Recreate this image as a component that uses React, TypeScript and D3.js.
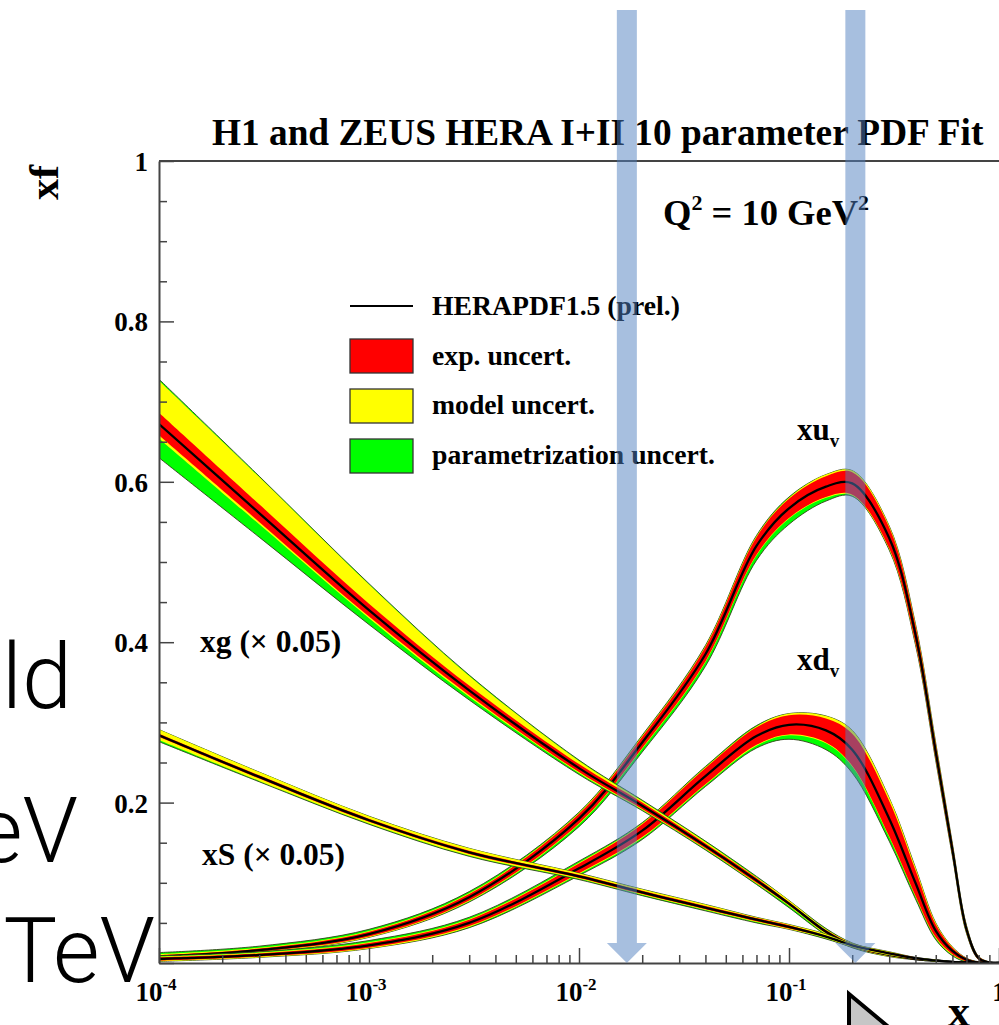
import React, { useRef, useEffect } from "react";
import * as d3 from "d3";

// x grid shared by all PDF curves
const xGrid = [1e-4, 3e-4, 1e-3, 3e-3, 0.01, 0.02, 0.04, 0.07, 0.1, 0.15, 0.2, 0.3, 0.4, 0.5, 0.6, 0.7, 0.8, 0.9, 1];

// xu_v
const xuvCentral = [0.008, 0.016, 0.036, 0.082, 0.18, 0.275, 0.385, 0.52, 0.567, 0.594, 0.598, 0.53, 0.41, 0.263, 0.141, 0.042, 0.006, 0.0005, 0];
const xuvExp = [0.002, 0.002, 0.003, 0.004, 0.006, 0.007, 0.009, 0.011, 0.012, 0.013, 0.014, 0.013, 0.011, 0.009, 0.007, 0.004, 0.002, 0.001, 0];
const xuvModHi = [0.003, 0.003, 0.004, 0.005, 0.007, 0.008, 0.01, 0.012, 0.013, 0.015, 0.016, 0.015, 0.013, 0.011, 0.008, 0.005, 0.002, 0.001, 0];
const xuvModLo = [0.003, 0.003, 0.004, 0.005, 0.007, 0.008, 0.01, 0.012, 0.013, 0.014, 0.015, 0.014, 0.012, 0.01, 0.008, 0.005, 0.002, 0.001, 0];
const xuvTotHi = [0.005, 0.005, 0.006, 0.007, 0.008, 0.009, 0.011, 0.013, 0.014, 0.015, 0.016, 0.015, 0.013, 0.011, 0.008, 0.005, 0.002, 0.001, 0];
const xuvTotLo = [0.003, 0.003, 0.004, 0.006, 0.01, 0.012, 0.015, 0.018, 0.02, 0.018, 0.016, 0.015, 0.013, 0.011, 0.008, 0.005, 0.002, 0.001, 0];

// xd_v
const xdvCentral = [0.005, 0.01, 0.022, 0.05, 0.118, 0.165, 0.233, 0.283, 0.297, 0.29, 0.266, 0.18, 0.1, 0.04, 0.015, 0.004, 0.0005, 0, 0];
const xdvExp = [0.002, 0.002, 0.003, 0.004, 0.006, 0.008, 0.01, 0.011, 0.012, 0.015, 0.02, 0.022, 0.016, 0.008, 0.004, 0.002, 0.001, 0, 0];
const xdvModHi = [0.003, 0.003, 0.004, 0.005, 0.007, 0.009, 0.011, 0.012, 0.014, 0.018, 0.024, 0.026, 0.019, 0.01, 0.005, 0.002, 0.001, 0, 0];
const xdvModLo = [0.003, 0.003, 0.004, 0.005, 0.007, 0.009, 0.011, 0.012, 0.013, 0.016, 0.021, 0.023, 0.017, 0.009, 0.005, 0.002, 0.001, 0, 0];
const xdvTotHi = [0.004, 0.004, 0.006, 0.007, 0.009, 0.01, 0.012, 0.013, 0.014, 0.018, 0.024, 0.026, 0.019, 0.01, 0.005, 0.002, 0.001, 0, 0];
const xdvTotLo = [0.003, 0.003, 0.004, 0.006, 0.009, 0.011, 0.013, 0.015, 0.018, 0.024, 0.029, 0.028, 0.02, 0.011, 0.006, 0.003, 0.001, 0, 0];

// xg (x 0.05)
const xgCentral = [0.672, 0.561, 0.44, 0.34, 0.243, 0.196, 0.146, 0.103, 0.074, 0.039, 0.022, 0.01, 0.005, 0.003, 0.0015, 0.0007, 0.0002, 0, 0];
const xgExp = [0.014, 0.011, 0.008, 0.006, 0.005, 0.004, 0.003, 0.003, 0.002, 0.002, 0.002, 0.001, 0.001, 0.001, 0, 0, 0, 0, 0];
const xgModHi = [0.054, 0.045, 0.032, 0.018, 0.009, 0.006, 0.005, 0.004, 0.004, 0.003, 0.003, 0.002, 0.001, 0.001, 0, 0, 0, 0, 0];
const xgModLo = [0.018, 0.014, 0.01, 0.008, 0.006, 0.005, 0.004, 0.004, 0.003, 0.003, 0.002, 0.002, 0.001, 0.001, 0, 0, 0, 0, 0];
const xgTotHi = [0.056, 0.046, 0.033, 0.019, 0.01, 0.007, 0.006, 0.005, 0.004, 0.004, 0.003, 0.002, 0.001, 0.001, 0, 0, 0, 0, 0];
const xgTotLo = [0.042, 0.03, 0.018, 0.012, 0.008, 0.006, 0.005, 0.005, 0.005, 0.004, 0.003, 0.002, 0.001, 0.001, 0, 0, 0, 0, 0];

// xS (x 0.05)
const xsCentral = [0.284, 0.232, 0.178, 0.138, 0.108, 0.088, 0.069, 0.054, 0.045, 0.033, 0.022, 0.012, 0.006, 0.003, 0.0015, 0.0007, 0.0002, 0, 0];
const xsExp = [0.002, 0.002, 0.002, 0.002, 0.002, 0.002, 0.002, 0.002, 0.002, 0.001, 0.001, 0.001, 0.001, 0, 0, 0, 0, 0, 0];
const xsModHi = [0.007, 0.006, 0.005, 0.005, 0.004, 0.004, 0.004, 0.003, 0.003, 0.003, 0.002, 0.002, 0.001, 0.001, 0, 0, 0, 0, 0];
const xsModLo = [0.006, 0.005, 0.004, 0.004, 0.003, 0.003, 0.003, 0.003, 0.003, 0.002, 0.002, 0.002, 0.001, 0.001, 0, 0, 0, 0, 0];
const xsTotHi = [0.007, 0.006, 0.005, 0.005, 0.004, 0.004, 0.004, 0.003, 0.003, 0.003, 0.002, 0.002, 0.001, 0.001, 0, 0, 0, 0, 0];
const xsTotLo = [0.008, 0.006, 0.005, 0.005, 0.004, 0.004, 0.004, 0.004, 0.003, 0.003, 0.002, 0.002, 0.001, 0.001, 0, 0, 0, 0, 0];

const yTickLabels = ["0.2", "0.4", "0.6", "0.8", "1"];
const xTickExponents = ["-4", "-3", "-2", "-1"];
const legendLabels = ["HERAPDF1.5 (prel.)", "exp. uncert.", "model uncert.", "parametrization uncert."];
const bandColors = ["#ff0000", "#ffff00", "#00ff00"];
// x positions of the two highlight arrows
const arrowXs = [0.0169, 0.207];

const serif = "'Liberation Serif', 'Times New Roman', serif";

const App = () => {
    const chart = useRef<SVGSVGElement>(null);

    useEffect(() => {
        const svg = d3.select(chart.current);
        svg.selectAll("*").remove();

        const x = d3.scaleLog().domain([1e-4, 1]).range([159, 999]);
        const y = d3.scaleLinear().domain([0, 1]).range([963, 161]);

        svg.append("defs").append("clipPath").attr("id", "plotClip")
            .append("rect").attr("x", 159).attr("y", 161).attr("width", 840).attr("height", 802);

        const pdfs = [
            { c: xuvCentral, exp: xuvExp, mHi: xuvModHi, mLo: xuvModLo, tHi: xuvTotHi, tLo: xuvTotLo },
            { c: xdvCentral, exp: xdvExp, mHi: xdvModHi, mLo: xdvModLo, tHi: xdvTotHi, tLo: xdvTotLo },
            { c: xgCentral, exp: xgExp, mHi: xgModHi, mLo: xgModLo, tHi: xgTotHi, tLo: xgTotLo },
            { c: xsCentral, exp: xsExp, mHi: xsModHi, mLo: xsModLo, tHi: xsTotHi, tLo: xsTotLo },
        ];

        const idx = d3.range(xGrid.length);
        const curve = d3.curveCatmullRom.alpha(0.5);
        const plot = svg.append("g").attr("clip-path", "url(#plotClip)");

        pdfs.forEach(p => {
            const band = (lo: number[], hi: number[]) => d3.area<number>()
                .x(i => x(xGrid[i]))
                .y0(i => y(p.c[i] - lo[i]))
                .y1(i => y(p.c[i] + hi[i]))
                .curve(curve)(idx);
            plot.append("path").attr("d", band(p.tLo, p.tHi))
                .attr("fill", bandColors[2]).attr("stroke", "#34401a").attr("stroke-width", 0.9);
            plot.append("path").attr("d", band(p.mLo, p.mHi)).attr("fill", bandColors[1]);
            plot.append("path").attr("d", band(p.exp, p.exp)).attr("fill", bandColors[0]);
            const line = d3.line<number>().x(i => x(xGrid[i])).y(i => y(p.c[i])).curve(curve);
            plot.append("path").attr("d", line(idx)).attr("fill", "none")
                .attr("stroke", "#000").attr("stroke-width", 2.3);
        });

        // axes with inward ticks
        const yMinor = d3.range(0, 1.0001, 0.05).filter(v => Math.round(v * 100) % 20 !== 0);
        const yMajor = d3.range(0, 1.0001, 0.2);
        const axCol = "#444";
        svg.append("g").attr("transform", "translate(159,0)")
            .call(d3.axisLeft(y).tickValues(yMinor).tickSize(-8).tickSizeOuter(0).tickFormat(() => ""))
            .call(g => g.selectAll("line").attr("stroke", axCol).attr("stroke-width", 1.5))
            .call(g => g.select(".domain").attr("stroke", axCol).attr("stroke-width", 2));
        svg.append("g").attr("transform", "translate(159,0)")
            .call(d3.axisLeft(y).tickValues(yMajor).tickSize(-15).tickSizeOuter(0).tickFormat(() => ""))
            .call(g => g.selectAll("line").attr("stroke", axCol).attr("stroke-width", 1.5))
            .call(g => g.select(".domain").remove());

        const xMajor = [1e-4, 1e-3, 1e-2, 1e-1, 1];
        const xMinor: number[] = [];
        [1e-4, 1e-3, 1e-2, 1e-1].forEach(d => d3.range(2, 10).forEach(k => xMinor.push(d * k)));
        svg.append("g").attr("transform", "translate(0,963)")
            .call(d3.axisBottom(x).tickValues(xMinor).tickSize(-8).tickSizeOuter(0).tickFormat(() => ""))
            .call(g => g.selectAll("line").attr("stroke", axCol).attr("stroke-width", 1.5))
            .call(g => g.select(".domain").attr("stroke", axCol).attr("stroke-width", 2));
        svg.append("g").attr("transform", "translate(0,963)")
            .call(d3.axisBottom(x).tickValues(xMajor).tickSize(-15).tickSizeOuter(0).tickFormat(() => ""))
            .call(g => g.selectAll("line").attr("stroke", axCol).attr("stroke-width", 1.5))
            .call(g => g.select(".domain").remove());

        svg.append("line").attr("x1", 159).attr("x2", 999).attr("y1", 161).attr("y2", 161)
            .attr("stroke", axCol).attr("stroke-width", 2);

        // tick labels
        svg.append("g").selectAll("text").data(yTickLabels).join("text")
            .attr("x", 148).attr("y", d => y(+d) + 10)
            .attr("text-anchor", "end").attr("font-family", serif).attr("font-weight", "bold")
            .attr("font-size", 27).text(d => d);

        const xl = svg.append("g").selectAll("text").data(xTickExponents).join("text")
            .attr("x", d => x(Math.pow(10, +d)) - 3).attr("y", 1001)
            .attr("text-anchor", "middle").attr("font-family", serif).attr("font-weight", "bold")
            .attr("font-size", 27);
        xl.append("tspan").text("10");
        xl.append("tspan").attr("dy", -11).attr("font-size", 17).text(d => d);
        svg.append("text").attr("x", x(1)).attr("y", 1001).attr("text-anchor", "middle")
            .attr("font-family", serif).attr("font-weight", "bold").attr("font-size", 27).text("1");

        // titles
        const bold = (t: any, size: number) => t.attr("font-family", serif).attr("font-weight", "bold").attr("font-size", size);
        bold(svg.append("text").attr("x", 212).attr("y", 145), 37.3).text("H1 and ZEUS HERA I+II 10 parameter PDF Fit");
        bold(svg.append("text").attr("transform", "translate(58,165) rotate(-90)").attr("text-anchor", "end"), 42).text("xf");
        bold(svg.append("text").attr("x", 948).attr("y", 1026), 44).text("x");

        const q = bold(svg.append("text").attr("x", 663).attr("y", 225), 36.5);
        q.append("tspan").text("Q");
        q.append("tspan").attr("dy", -15).attr("font-size", 22).text("2");
        q.append("tspan").attr("dy", 15).text(" = 10 GeV");
        q.append("tspan").attr("dy", -15).attr("font-size", 22).text("2");

        const pdfLabel = (px: number, py: number, main: string, sub: string) => {
            const t = bold(svg.append("text").attr("x", px).attr("y", py), 31);
            t.append("tspan").text(main);
            t.append("tspan").attr("dy", 7).attr("font-size", 19).text(sub);
        };
        pdfLabel(797, 440, "xu", "v");
        pdfLabel(797, 670, "xd", "v");
        bold(svg.append("text").attr("x", 200).attr("y", 652), 31.5).text("xg (\u00d7 0.05)");
        bold(svg.append("text").attr("x", 202).attr("y", 865), 31.5).text("xS (\u00d7 0.05)");

        // legend
        const lg = svg.append("g");
        lg.append("line").attr("x1", 350).attr("x2", 413).attr("y1", 306).attr("y2", 306)
            .attr("stroke", "#000").attr("stroke-width", 2.2);
        lg.selectAll("rect").data(bandColors).join("rect")
            .attr("x", 350).attr("y", (d, i) => 339 + i * 50).attr("width", 63).attr("height", 34)
            .attr("fill", d => d).attr("stroke", "#333").attr("stroke-width", 1.3);
        lg.selectAll("text").data(legendLabels).join("text")
            .attr("x", 432).attr("y", (d, i) => 315 + i * 49.7)
            .attr("font-family", serif).attr("font-weight", "bold").attr("font-size", 27.7).text(d => d);

        // highlight arrows
        svg.append("g").selectAll("path").data(arrowXs).join("path")
            .attr("d", d => {
                const cx = x(d), tip = y(0), neck = tip - 20;
                return `M${cx - 10},10 L${cx + 10},10 L${cx + 10},${neck} L${cx + 20},${neck} L${cx},${tip} L${cx - 20},${neck} L${cx - 10},${neck} Z`;
            })
            .attr("fill", "#4f7fbf").attr("opacity", 0.5);

        // slide text fragments on the left
        const slide = [["old", 72, 708], ["eV", 78, 862], ["TeV", 155, 982]];
        svg.append("g").selectAll("text").data(slide).join("text")
            .attr("x", d => d[1] as number).attr("y", d => d[2] as number).attr("text-anchor", "end")
            .attr("font-family", "Roboto, 'Open Sans', 'Liberation Sans', sans-serif").attr("font-weight", 300)
            .attr("font-size", 90).attr("fill", "#000").text(d => d[0] as string);

        // mouse pointer at the bottom
        svg.append("path").attr("d", "M849,994 L849,1060 L928,1060 Z")
            .attr("fill", "#c6c6c6").attr("stroke", "#000").attr("stroke-width", 4).attr("stroke-linejoin", "miter");
    }, []);

    return (
        <svg ref={chart} width={999} height={1025}
            style={{ position: "absolute", left: 0, top: 0, background: "#fff" }} />
    );
};

export default App;
